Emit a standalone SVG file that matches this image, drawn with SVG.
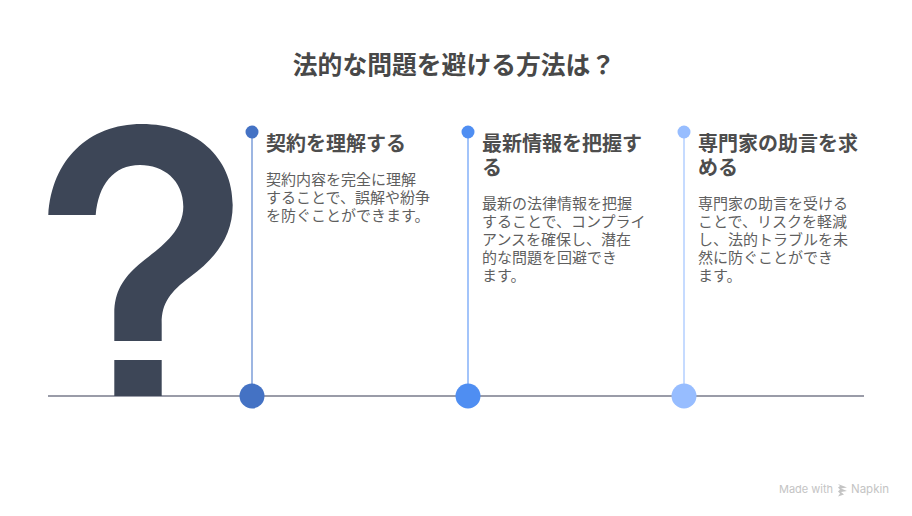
<svg xmlns="http://www.w3.org/2000/svg" width="912" height="516" viewBox="0 0 912 516">
<style>
text{font-family:"Noto Sans CJK JP","Noto Sans",sans-serif;fill:#484848}
.t{font-size:24.800px;font-weight:700}
.h{font-size:20px;font-weight:700;fill:#4d4d4d}
.b{font-size:15px;fill:#5f5f5f}
.v{stroke-width:2}
</style>
<rect width="912" height="516" fill="#fff"/>
<text class="t" x="454" y="74" text-anchor="middle" id="title">法的な問題を避ける方法は？</text>
<g id="connectors" fill="none">
<line x1="48" y1="396" x2="864" y2="396" stroke="#9a9ca8" stroke-width="2"/>
<line class="v" x1="252" y1="132" x2="252" y2="396" stroke="#9db6e2"/>
<line class="v" x1="468" y1="132" x2="468" y2="396" stroke="#a3c4fa"/>
<line class="v" x1="684" y1="132" x2="684" y2="396" stroke="#c6dbff"/>
</g>
<g id="question">
<path fill="#3d4657" d="M114.300 341V313.300C114.300 291.700 123.300 278.300 138.300 265C153.300 251.700 183.300 235 183.300 206.700C183.300 180 163.300 165 140 165C113.300 165 98.300 185 95.700 215H48.300C51.700 160 88.300 124 141.700 124C195 124 232.700 156.700 232.700 205C232.700 236 216 258 190 277C170 292 161.700 303 161.700 323.300V341ZM114.300 360H161.700V396H114.300Z"/>
</g>
<g id="node1">
<circle cx="252" cy="132" r="6.500" fill="#4472c4"/>
<circle cx="252" cy="396" r="12.500" fill="#4472c4"/>
<text class="h" x="266" y="151">契約を理解する</text>
<text class="b" x="266" y="185">契約内容を完全に理解</text>
<text class="b" x="266" y="203">することで、誤解や紛争</text>
<text class="b" x="266" y="221">を防ぐことができます。</text>
</g>
<g id="node2">
<circle cx="468" cy="132" r="6.500" fill="#4f8ef2"/>
<circle cx="468" cy="396" r="12.500" fill="#4f8ef2"/>
<text class="h" x="482" y="151">最新情報を把握す</text>
<text class="h" x="482" y="175">る</text>
<text class="b" x="482" y="209">最新の法律情報を把握</text>
<text class="b" x="482" y="227">することで、コンプライ</text>
<text class="b" x="482" y="245">アンスを確保し、潜在</text>
<text class="b" x="482" y="263">的な問題を回避でき</text>
<text class="b" x="482" y="281">ます。</text>
</g>
<g id="node3">
<circle cx="684" cy="132" r="6.500" fill="#97bdff"/>
<circle cx="684" cy="396" r="12.500" fill="#97bdff"/>
<text class="h" x="698" y="151">専門家の助言を求</text>
<text class="h" x="698" y="175">める</text>
<text class="b" x="698" y="209">専門家の助言を受ける</text>
<text class="b" x="698" y="227">ことで、リスクを軽減</text>
<text class="b" x="698" y="245">し、法的トラブルを未</text>
<text class="b" x="698" y="263">然に防ぐことができ</text>
<text class="b" x="698" y="281">ます。</text>
</g>
<g id="watermark" fill="#c4c4c4">
<text x="779" y="493" font-size="11" style="fill:#c4c4c4;font-family:Inter,'Noto Sans',sans-serif">Made with</text>
<path d="M838 484l9 3.500-6 1 6 2.500-6 1 3 2.500-6 2 2-3-2-2 2-2-2-2 2-1.500z"/>
<text x="851" y="493" font-size="11.500" style="fill:#c4c4c4;font-family:Inter,'Noto Sans',sans-serif">Napkin</text>
</g>
</svg>
